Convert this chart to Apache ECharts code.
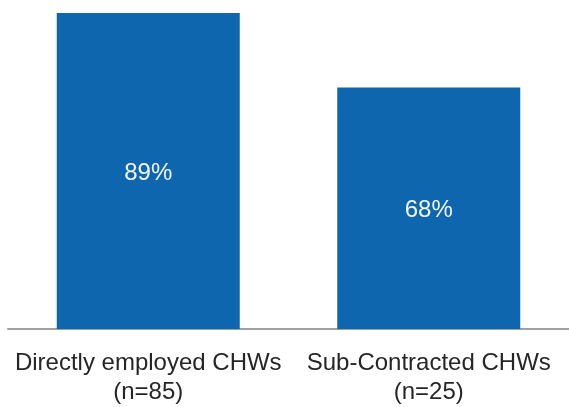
<!DOCTYPE html>
<html>
<head>
<meta charset="utf-8">
<script src="https://cdn.jsdelivr.net/npm/echarts@6/dist/echarts.min.js"></script>
<style>
html,body{margin:0;padding:0;background:#fff;}
#c{width:569px;height:407px;}
</style>
</head>
<body>
<div id="c"></div>
<script>
const categories = ['Directly employed CHWs\n(n=85)', 'Sub-Contracted CHWs\n(n=25)'];
const values = [89, 68];

const chart = echarts.init(document.getElementById('c'), null, {renderer: 'canvas'});
chart.setOption({
  animation: false,
  backgroundColor: '#ffffff',
  grid: {left: 8, width: 568, top: 13, bottom: 77, containLabel: false},
  xAxis: {
    type: 'category',
    data: categories,
    axisLine: {show: true, lineStyle: {color: '#a0a0a0', width: 2}},
    axisTick: {show: false},
    axisLabel: {
      color: '#262626',
      fontFamily: 'Liberation Sans, Arial, sans-serif',
      fontSize: 24,
      lineHeight: 29,
      margin: 20,
      interval: 0
    }
  },
  yAxis: {
    type: 'value',
    min: 0,
    max: 89,
    show: false,
    splitLine: {show: false}
  },
  series: [{
    type: 'bar',
    data: values,
    barWidth: 183,
    itemStyle: {color: '#0e67ae'},
    label: {
      show: true,
      position: 'inside',
      offset: [0, 2],
      formatter: '{c}%',
      color: '#f2f5f9',
      fontFamily: 'Liberation Sans, Arial, sans-serif',
      fontSize: 24
    }
  }]
});
</script>
</body>
</html>
